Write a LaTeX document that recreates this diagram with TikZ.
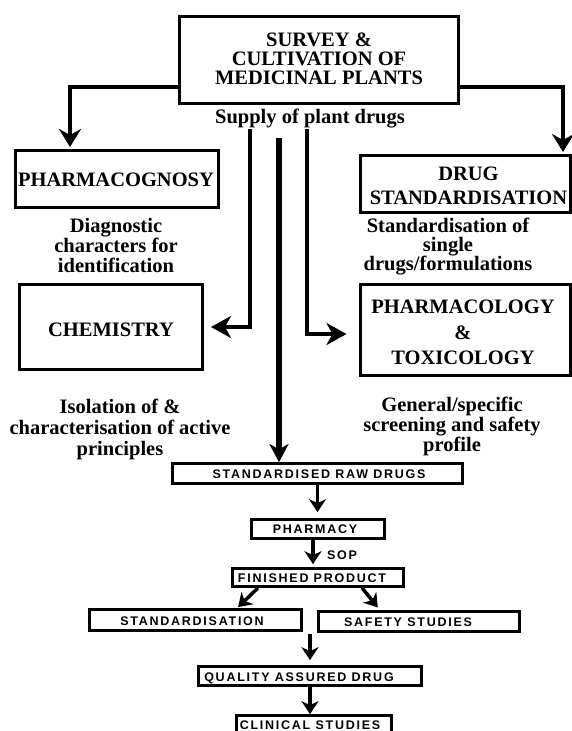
\documentclass[tikz,border=0pt]{standalone}
\usepackage{fontspec}
\setmainfont{Liberation Serif}
\newfontfamily\lowfont[LetterSpace=14]{Liberation Sans}
\usetikzlibrary{arrows.meta}
\begin{document}
\begin{tikzpicture}[x=1pt,y=-1pt,
  ubox/.style={draw, line width=3pt, inner sep=0pt},
  lbox/.style={draw, line width=2.7pt, inner sep=0pt},
  utext/.style={font=\bfseries\fontsize{20.5}{#1}\selectfont, align=center, inner sep=0pt},
  utext/.default=20,
  ltext/.style={font=\lowfont\bfseries\fontsize{12.5}{14}\selectfont, inner sep=0pt, text height=9pt, text depth=0pt},
  uconn/.style={line width=4.5pt, -{Stealth[length=18pt,width=22pt,inset=6pt]}},
  sconn/.style={line width=4pt, -{Stealth[length=20pt,width=22pt,inset=6pt]}},
  tconn/.style={line width=6pt, -{Stealth[length=18pt,width=19pt,inset=5pt]}},
  lconn/.style={line width=3.5pt, -{Stealth[length=13pt,width=17pt,inset=4pt]}}
]
\path[clip] (0,0) rectangle (572,731);
\useasboundingbox (0,0) rectangle (572,731);

% upper part
\node[ubox, minimum width=279pt, minimum height=87pt] (survey) at (319,60) {};
\node[utext=19] (surveytxt) at (319,58.5) {SURVEY \&\\CULTIVATION OF\\MEDICINAL PLANTS};
\node[utext, anchor=north] (supply) at (310,109) {Supply of plant drugs};

\node[ubox, minimum width=203pt, minimum height=57pt] (pcog) at (117,179) {};
\node[utext] (pcogtxt) at (116,179.5) {PHARMACOGNOSY};
\node[utext=20, anchor=north] (diag) at (116,218) {Diagnostic\\characters for\\identification};

\node[ubox, minimum width=183pt, minimum height=85pt] (chem) at (111,327) {};
\node[utext] (chemtxt) at (111,329.5) {CHEMISTRY};
\node[utext=21, anchor=north] (iso) at (120,399) {Isolation of \&\\characterisation of active\\principles};

\node[ubox, minimum width=210pt, minimum height=57pt] (dstd) at (465,184) {};
\node[utext=24] (dstdtxt) at (468.5,186) {DRUG\\STANDARDISATION};
\node[utext=19, anchor=north] (stdof) at (448,218) {Standardisation of\\single\\drugs/formulations};

\node[ubox, minimum width=210pt, minimum height=91pt] (pharm) at (465,330) {};
\node[utext=25.5] (pharmtxt) at (463,332.5) {PHARMACOLOGY\\\&\\TOXICOLOGY};
\node[utext=18.5, anchor=north] (gen) at (452,397) {General/specific\\screening and safety\\profile};

% lower part
\node[lbox, minimum width=290pt, minimum height=20pt] (raw) at (317.5,473.5) {};
\node[ltext] (rawtxt) at (319,474) {STANDARDISED RAW DRUGS};
\node[lbox, minimum width=133pt, minimum height=19pt] (pharmacy) at (318,529) {};
\node[ltext] (pharmacytxt) at (315,529) {PHARMACY};
\node[ltext] (sop) at (342,555) {SOP};
\node[lbox, minimum width=171pt, minimum height=18pt] (fin) at (318,577.5) {};
\node[ltext] (fintxt) at (312,578) {FINISHED PRODUCT};
\node[lbox, minimum width=212pt, minimum height=21pt] (std) at (195.5,620) {};
\node[ltext] (stdtxt) at (192,621) {STANDARDISATION};
\node[lbox, minimum width=201pt, minimum height=20pt] (safe) at (419,621.5) {};
\node[ltext] (safetxt) at (408,622) {SAFETY STUDIES};
\node[lbox, minimum width=223pt, minimum height=19pt] (qual) at (310,676) {};
\node[ltext] (qualtxt) at (299,677) {QUALITY ASSURED DRUG};
\node[lbox, minimum width=155pt, minimum height=23pt] (clin) at (314,727) {};
\node[ltext] (clintxt) at (310,725) {CLINICAL STUDIES};

% coordinates for free line ends
\coordinate (s1) at (250,129);
\coordinate (s2) at (279,138);
\coordinate (s3) at (307,129);
\coordinate (mid) at (310,634);

% upper connectors
\draw[uconn, shorten >=2pt] ([yshift=-27pt]survey.west) -| ([xshift=-47pt]pcog.north);
\draw[uconn, shorten >=2pt] ([yshift=-27pt]survey.east) -| ([xshift=98pt]dstd.north);
\draw[sconn, shorten >=7pt] (s1) |- (chem.east);
\draw[sconn, shorten >=12pt] (s3) |- ([yshift=-4pt]pharm.west);
\draw[tconn] (s2) -- (s2 |- raw.north);

% lower connectors
\draw[lconn, shorten >=6pt] (raw.south) -- (raw.south |- pharmacy.north);
\draw[lconn, shorten >=3pt] ([xshift=-5pt]pharmacy.south) -- ([xshift=-5pt]pharmacy.south |- fin.north);
\draw[lconn, shorten >=1.5pt] ([xshift=-60pt]fin.south) -- ([xshift=41.5pt]std.north);
\draw[lconn, shorten >=3.5pt] ([xshift=44pt]fin.south) -- ([xshift=-39pt]safe.north);
\draw[lconn, shorten >=5pt] (mid) -- (mid |- qual.north);
\draw[lconn] (qual.south) -- (qual.south |- clin.north);
\end{tikzpicture}
\end{document}
